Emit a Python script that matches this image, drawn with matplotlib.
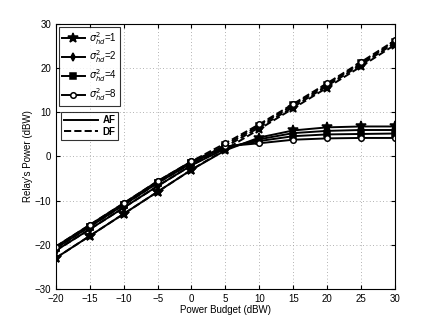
import matplotlib.pyplot as plt
from matplotlib.lines import Line2D

plt.rcParams['font.family'] = ['Liberation Sans', 'DejaVu Sans']

# Power budget (dBW)
pb = [-20, -15, -10, -5, 0, 5, 10, 15, 20, 25, 30]

# AF relay power for sigma_hd^2 = 1, 2, 4, 8
af_1 = [-23.0, -18.0, -13.0, -8.0, -3.0, 1.4, 4.3, 5.9, 6.6, 6.8, 6.8]
af_2 = [-21.3, -16.5, -11.6, -6.7, -2.0, 1.8, 3.9, 5.3, 5.8, 6.0, 6.0]
af_4 = [-20.8, -15.9, -11.0, -6.0, -1.5, 2.1, 3.5, 4.6, 5.0, 5.1, 5.2]
af_8 = [-20.4, -15.5, -10.6, -5.6, -1.1, 2.3, 3.0, 3.8, 4.1, 4.2, 4.2]

# DF relay power for sigma_hd^2 = 1, 2, 4, 8
df_1 = [-23.0, -18.0, -13.0, -8.0, -3.0, 1.6, 6.2, 10.9, 15.6, 20.4, 25.3]
df_2 = [-21.3, -16.5, -11.6, -6.7, -2.0, 2.2, 6.6, 11.2, 16.0, 20.8, 25.7]
df_4 = [-20.8, -15.9, -11.0, -6.0, -1.5, 2.6, 7.0, 11.6, 16.3, 21.1, 26.0]
df_8 = [-20.4, -15.5, -10.6, -5.6, -1.1, 3.0, 7.3, 11.9, 16.6, 21.4, 26.3]

labels = [r'$\sigma^2_{hd}$=1', r'$\sigma^2_{hd}$=2',
          r'$\sigma^2_{hd}$=4', r'$\sigma^2_{hd}$=8']
markers = ['*', 'd', 's', 'o']
af_all = [af_1, af_2, af_4, af_8]
df_all = [df_1, df_2, df_4, df_8]


def msize(m):
    return 7 if m == '*' else 4


def mface(m):
    return 'white' if m == 'o' else 'black'


fig = plt.figure(figsize=(4.36, 3.25), dpi=100)
ax = fig.add_axes([0.128, 0.111, 0.778, 0.815])

for af, df, m in zip(af_all, df_all, markers):
    ax.plot(pb, af, '-', color='black', lw=1.4, marker=m, ms=msize(m),
            mfc=mface(m), mec='black', mew=1.1)
    ax.plot(pb, df, '--', color='black', lw=1.4, marker=m, ms=msize(m),
            mfc=mface(m), mec='black', mew=1.1)

ax.set_xlim(-20, 30)
ax.set_ylim(-30, 30)
ax.set_xticks(range(-20, 31, 5))
ax.set_yticks(range(-30, 31, 10))
ax.grid(True, ls=(0, (1, 3)), color='#999999', lw=0.6)
ax.tick_params(direction='in', labelsize=7, length=3, top=True, right=True)
for s in ax.spines.values():
    s.set_linewidth(0.8)
ax.set_xlabel('Power Budget (dBW)', fontsize=7, labelpad=1)
ax.set_ylabel("Relay's Power (dBW)", fontsize=7, labelpad=1)

h1 = [Line2D([], [], color='black', lw=1.4, marker=m, ms=msize(m),
             mfc=mface(m), mec='black', mew=1.1) for m in markers]
leg1 = ax.legend(h1, labels, loc='upper left', fontsize=7, fancybox=False,
                 edgecolor='black', handlelength=2.4, borderaxespad=0.3,
                 labelspacing=0.2, handletextpad=0.4, borderpad=0.3)
leg1.get_frame().set_linewidth(0.8)
ax.add_artist(leg1)

h2 = [Line2D([], [], color='black', lw=1.4, ls='-'),
      Line2D([], [], color='black', lw=1.4, ls='--')]
leg2 = ax.legend(h2, ['AF', 'DF'], loc='upper left', fontsize=7,
                 fancybox=False, edgecolor='black', handlelength=3.5,
                 bbox_to_anchor=(0.0, 0.685), labelspacing=0.15,
                 handletextpad=0.5, borderpad=0.3,
                 prop={'weight': 'bold', 'size': 7})
leg2.get_frame().set_linewidth(0.8)

fig.savefig('out.png', dpi=100)
